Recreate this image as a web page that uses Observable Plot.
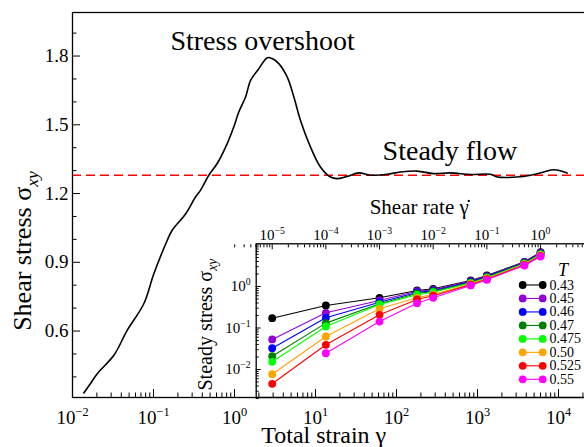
<!DOCTYPE html>
<html><head><meta charset="utf-8">
<script src="https://cdn.jsdelivr.net/npm/d3@7"></script>
<script src="https://cdn.jsdelivr.net/npm/@observablehq/plot@0.6"></script>
<style>
html,body{margin:0;padding:0;background:#fff;overflow:hidden;}
#wrap{position:relative;width:584px;height:447px;overflow:hidden;font-family:"Liberation Serif","Times New Roman",serif;}
#wrap svg{position:absolute;left:0;top:0;overflow:visible;max-width:none !important;width:600px !important;height:447px !important;}
</style></head><body><div id="wrap"></div>
<script>
// ---------- main curve: shear stress vs total strain ----------
const strain = [0.0138,0.0167,0.0202,0.0324,0.0473,0.0759,0.101,0.148,0.170,0.250,0.330,0.380,0.482,0.611,0.813,0.979,1.13,1.37,1.58,2.00,2.54,2.92,3.52,4.48,5.41,6.53,8.67,11.5,15.3,18.5,24.6,34.3,47.8,76.7,112,180,289,465,820,1445,1750,3090,4510,6590,8750,12800];
const stress = [0.330,0.371,0.414,0.494,0.603,0.719,0.850,0.996,1.040,1.112,1.185,1.214,1.280,1.331,1.418,1.490,1.556,1.621,1.694,1.745,1.793,1.789,1.767,1.708,1.621,1.519,1.403,1.316,1.272,1.265,1.275,1.290,1.280,1.284,1.294,1.298,1.287,1.290,1.283,1.284,1.272,1.272,1.280,1.294,1.304,1.290];
const steadyLevel = [1.28];
const annotations = ["Stress overshoot", "Steady flow"];

// ---------- inset: steady stress vs shear rate ----------
const shearRate = [1e-5,1e-4,1e-3,5e-3,1e-2,5e-2,1e-1,5e-1,1];
const temps = ["0.43","0.45","0.46","0.47","0.475","0.50","0.525","0.55"];
const colors = ["#000000","#9400d3","#0000ff","#008000","#00ff00","#ffa500","#ff0000","#ff00ff"];
const sT043  = [0.172, 0.348, 0.534, 0.80, 0.88, 1.40, 1.84, 3.94, 6.7];
const sT045  = [0.053, 0.232, 0.460, 0.77, 0.83, 1.34, 1.78, 3.85, 6.5];
const sT046  = [0.0326,0.176, 0.419, 0.72, 0.79, 1.29, 1.73, 3.75, 6.3];
const sT047  = [0.0209,0.131, 0.383, 0.68, 0.76, 1.25, 1.68, 3.65, 6.1];
const sT0475 = [0.0153,0.109, 0.368, 0.63, 0.73, 1.21, 1.63, 3.55, 5.95];
const sT050  = [0.0077,0.0624,0.290, 0.534,0.64, 1.16, 1.56, 3.42, 5.7];
const sT0525 = [0.00452,0.0394,0.208,0.486,0.60, 1.11, 1.50, 3.30, 5.5];
const sT055  = [null,  0.0247,0.143, 0.396,0.534,1.06, 1.45, 3.21, 5.28];
const steadySeries = [sT043,sT045,sT046,sT047,sT0475,sT050,sT0525,sT055];

// ---------- tick values ----------
const mainXMajor = [1e-2,1e-1,1e0,1e1,1e2,1e3,1e4];
const mainXMinor = [-2,-1,0,1,2,3,4].flatMap(e => [2,3,4,5,6,7,8,9].map(k => k*10**e)).filter(v => v < 3e4);
const mainYMajor = [0.6,0.9,1.2,1.5,1.8];
const mainYMinor = [0.4,0.5,0.7,0.8,1.0,1.1,1.3,1.4,1.6,1.7,1.9];
const insetXMajor = [1e-5,1e-4,1e-3,1e-2,1e-1,1e0];
const insetXMinor = [-6,-5,-4,-3,-2,-1,0].flatMap(e => [2,3,4,5,6,7,8,9].map(k => k*10**e));
const insetYMajor = [1e-2,1e-1,1e0];
const insetYMinor = [-3,-2,-1,0].flatMap(e => [2,3,4,5,6,7,8,9].map(k => k*10**e)).concat([10]);

const FONT = '"Liberation Serif","Times New Roman",serif';
const pow = d => { const e = Math.round(Math.log10(d)); return `10^{${e < 0 ? "\u2212" + (-e) : e}}`; };
const blank = () => "";

const W = 600, H = 447;
const wrap = document.getElementById("wrap");

const mainIdx = d3.range(strain.length);
const main = Plot.plot({
  width: W, height: H,
  marginLeft: 72, marginRight: 1.5, marginTop: 12, marginBottom: 50,
  style: {background: "transparent", fontFamily: FONT, color: "black", overflow: "visible"},
  x: {type: "log", domain: [1e-2, 10 ** 4.5]},
  y: {domain: [0.31, 1.99]},
  marks: [
    Plot.ruleY(steadyLevel, {stroke: "#ff0000", strokeWidth: 1.5, strokeDasharray: "9,5"}),
    Plot.line(mainIdx, {x: i => strain[i], y: i => stress[i], curve: "catmull-rom", stroke: "black", strokeWidth: 1.6}),
    Plot.axisX(mainXMajor, {anchor: "bottom", tickSize: -8, tickPadding: 21, tickFormat: pow, fontSize: 19, label: null}),
    Plot.axisX(mainXMinor, {anchor: "bottom", tickSize: -4.5, tickFormat: blank, label: null}),
    Plot.axisY(mainYMajor, {anchor: "left", tickSize: -8, tickPadding: 12, tickFormat: d => d.toFixed(1), fontSize: 19, label: null}),
    Plot.axisY(mainYMinor, {anchor: "left", tickSize: -4.5, tickFormat: blank, label: null}),
    Plot.frame({stroke: "black", strokeWidth: 1.3}),
    Plot.text([annotations[0]], {x: [2.22], y: [1.864], fontSize: 28, fill: "black", lineAnchor: "middle"}),
    Plot.text([annotations[1]], {x: [456], y: [1.384], fontSize: 28, fill: "black", lineAnchor: "middle"}),
    Plot.text(["Total strain \u03b3"], {frameAnchor: "bottom", textAnchor: "middle", lineAnchor: "middle", dx: -12, dy: 37.5, fontSize: 24, fill: "black"}),
    Plot.text(["Shear stress \u03c3_{xy}"], {frameAnchor: "left", textAnchor: "middle", lineAnchor: "middle", rotate: -90, dx: -50, dy: 46, fontSize: 26, fill: "black"})
  ]
});
wrap.appendChild(main);

const rows = [];
steadySeries.forEach((s, k) => s.forEach((v, j) => { if (v != null) rows.push({rate: shearRate[j], stress: v, T: temps[k]}); }));
const seriesMarks = temps.flatMap((t, k) => {
  const d = rows.filter(r => r.T === t);
  return [
    Plot.line(d, {x: "rate", y: "stress", stroke: colors[k], strokeWidth: 1.1}),
    Plot.dot(d, {x: "rate", y: "stress", fill: colors[k], r: 3.9, stroke: "none"})
  ];
});

const inset = Plot.plot({
  width: W, height: H,
  marginLeft: 255.7, marginTop: 243.3, marginBottom: 50, marginRight: 6.3,
  style: {background: "transparent", fontFamily: FONT, color: "black", overflow: "visible"},
  x: {type: "log", domain: [10 ** -5.298, 10]},
  y: {type: "log", domain: [10 ** -2.675, 10 ** 1.029]},
  marks: [
    ...seriesMarks,
    Plot.axisX(insetXMajor, {anchor: "top", tickSize: -5, tickPadding: 9, tickFormat: pow, fontSize: 15, label: null}),
    Plot.axisX(insetXMinor, {anchor: "top", tickSize: -3, tickFormat: blank, label: null}),
    Plot.axisY(insetYMajor, {anchor: "left", tickSize: -5, tickPadding: 10.5, tickFormat: pow, fontSize: 15, label: null}),
    Plot.axisY(insetYMinor, {anchor: "left", tickSize: -3, tickFormat: blank, label: null}),
    Plot.frame({stroke: "black", strokeWidth: 1.3}),
    Plot.text(["Shear rate \u03b3\u0307"], {frameAnchor: "top", textAnchor: "middle", lineAnchor: "middle", dx: -6, dy: -37, fontSize: 21, fill: "black"}),
    Plot.text(["Steady stress \u03c3_{xy}"], {frameAnchor: "left", textAnchor: "middle", lineAnchor: "middle", rotate: -90, dx: -51, dy: 4, fontSize: 20, fill: "black"})
  ]
});
wrap.appendChild(inset);

// legend
const leg = d3.create("svg").attr("width", W).attr("height", H).style("font-family", FONT);
leg.append("text").attr("x", 563).attr("y", 270).attr("text-anchor", "middle").attr("dominant-baseline", "central")
  .attr("font-style", "italic").attr("font-size", 18).text("T");
temps.forEach((t, k) => {
  const y = 285 + k * 13.47;
  const g = leg.append("g");
  g.append("line").attr("x1", 522.7).attr("x2", 542.7).attr("y1", y).attr("y2", y).attr("stroke", colors[k]).attr("stroke-width", 1.1);
  g.append("circle").attr("cx", 522.7).attr("cy", y).attr("r", 3.9).attr("fill", colors[k]);
  g.append("circle").attr("cx", 542.7).attr("cy", y).attr("r", 3.9).attr("fill", colors[k]);
  g.append("text").attr("x", 549.5).attr("y", y).attr("dominant-baseline", "central").attr("font-size", 14).text(t);
});
wrap.appendChild(leg.node());

// rich text: ^{..} superscript, _{..} italic subscript
function richify(svg) {
  d3.select(svg).selectAll("text").each(function() {
    const el = this;
    const targets = el.querySelectorAll("tspan").length ? Array.from(el.querySelectorAll("tspan")) : [el];
    targets.forEach(node => {
      const s = node.textContent;
      if (!/[\^_]\{/.test(s)) return;
      node.textContent = "";
      const re = /([\^_])\{([^}]*)\}/g;
      let last = 0, m, shifted = 0;
      const ns = "http://www.w3.org/2000/svg";
      while ((m = re.exec(s))) {
        if (m.index > last) {
          const t = document.createElementNS(ns, "tspan");
          if (shifted) t.setAttribute("dy", (-shifted) + "em");
          shifted = 0;
          t.textContent = s.slice(last, m.index);
          node.appendChild(t);
        }
        const sp = document.createElementNS(ns, "tspan");
        if (m[1] === "^") { sp.setAttribute("font-size", "65%"); sp.setAttribute("dy", "-0.62em"); shifted = -0.4; }
        else { sp.setAttribute("font-size", "68%"); sp.setAttribute("dy", "0.38em"); sp.setAttribute("font-style", "italic"); shifted = 0.26; }
        sp.textContent = m[2];
        node.appendChild(sp);
        last = re.lastIndex;
      }
      if (last < s.length) {
        const t = document.createElementNS(ns, "tspan");
        if (shifted) t.setAttribute("dy", (-shifted) + "em");
        t.textContent = s.slice(last);
        node.appendChild(t);
      }
    });
  });
}
richify(main); richify(inset);
</script></body></html>
